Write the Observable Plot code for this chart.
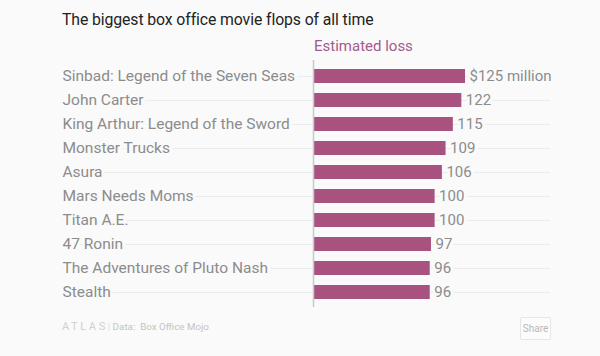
<!DOCTYPE html>
<html>
<head>
<meta charset="utf-8">
<script src="https://cdn.jsdelivr.net/npm/d3@7"></script>
<script src="https://cdn.jsdelivr.net/npm/@observablehq/plot@0.6"></script>
<style>
  html, body { margin: 0; padding: 0; background: #fafafa; }
  body { width: 600px; height: 356px; position: relative; overflow: hidden; font-family: Roboto, "Open Sans", sans-serif; }
  #title { position: absolute; left: 62px; top: 10px; font-size: 15.8px; color: #222; letter-spacing: -0.1px; }
  #sub { position: absolute; left: 314px; top: 37px; font-size: 15px; color: #a45a8a; }
  #chart { position: absolute; left: 0; top: 58px; }
  #footer { position: absolute; left: 62px; top: 320px; font-size: 9.8px; color: #c4c4c4; white-space: nowrap; }
  #footer .logo { letter-spacing: 2.6px; font-size: 11px; color: #d0d0d0; }
  #share { position: absolute; left: 520px; top: 317px; width: 29px; height: 21px; border: 1px solid #e6e6e6; border-radius: 2px; font-size: 10px; color: #b8b8b8; text-align: center; line-height: 21px; background: #fcfcfc; }
</style>
</head>
<body>
<div id="title">The biggest box office movie flops of all time</div>
<div id="sub">Estimated loss</div>
<div id="chart"></div>
<div id="footer"><span class="logo">ATLAS</span><span style="color:#ddd">|</span> Data:&nbsp; Box Office Mojo</div>
<div id="share">Share</div>
<script>
const movies = ["Sinbad: Legend of the Seven Seas", "John Carter", "King Arthur: Legend of the Sword", "Monster Trucks", "Asura", "Mars Needs Moms", "Titan A.E.", "47 Ronin", "The Adventures of Pluto Nash", "Stealth"];
const losses = [125, 122, 115, 109, 106, 100, 100, 97, 96, 96];
const valueLabels = ["$125 million", "122", "115", "109", "106", "100", "100", "97", "96", "96"];

const data = movies.map((m, i) => ({movie: m, loss: losses[i], label: valueLabels[i]}));

const chart = Plot.plot({
  width: 600,
  height: 252,
  marginLeft: 313,
  marginRight: 135,
  marginTop: 3,
  marginBottom: 3,
  style: {background: "transparent", fontFamily: "Roboto, 'Open Sans', sans-serif"},
  x: {domain: [0, 125], axis: null},
  y: {domain: movies, axis: null, paddingInner: 0.415, paddingOuter: 0.2075},
  marks: [
    Plot.ruleY(data, {y: "movie", stroke: "#ebebeb", strokeWidth: 1, insetLeft: -251, insetRight: -85}),
    Plot.barX(data, {y: "movie", x: "loss", fill: "#a8537f"}),
    Plot.text(data, {y: "movie", frameAnchor: "left", text: "movie", textAnchor: "start", dx: -251, fontSize: 15.5, fill: "#8c8c8c", stroke: "#fafafa", strokeWidth: 6, paintOrder: "stroke"}),
    Plot.text(data, {y: "movie", x: "loss", text: "label", textAnchor: "start", dx: 4, fontSize: 15, fill: "#8c8c8c", stroke: "#fafafa", strokeWidth: 6, paintOrder: "stroke"}),
    Plot.ruleX([0], {stroke: "#c8c8c8", strokeWidth: 1.5, insetTop: -1, insetBottom: 0})
  ]
});
document.getElementById("chart").appendChild(chart);
</script>
</body>
</html>
